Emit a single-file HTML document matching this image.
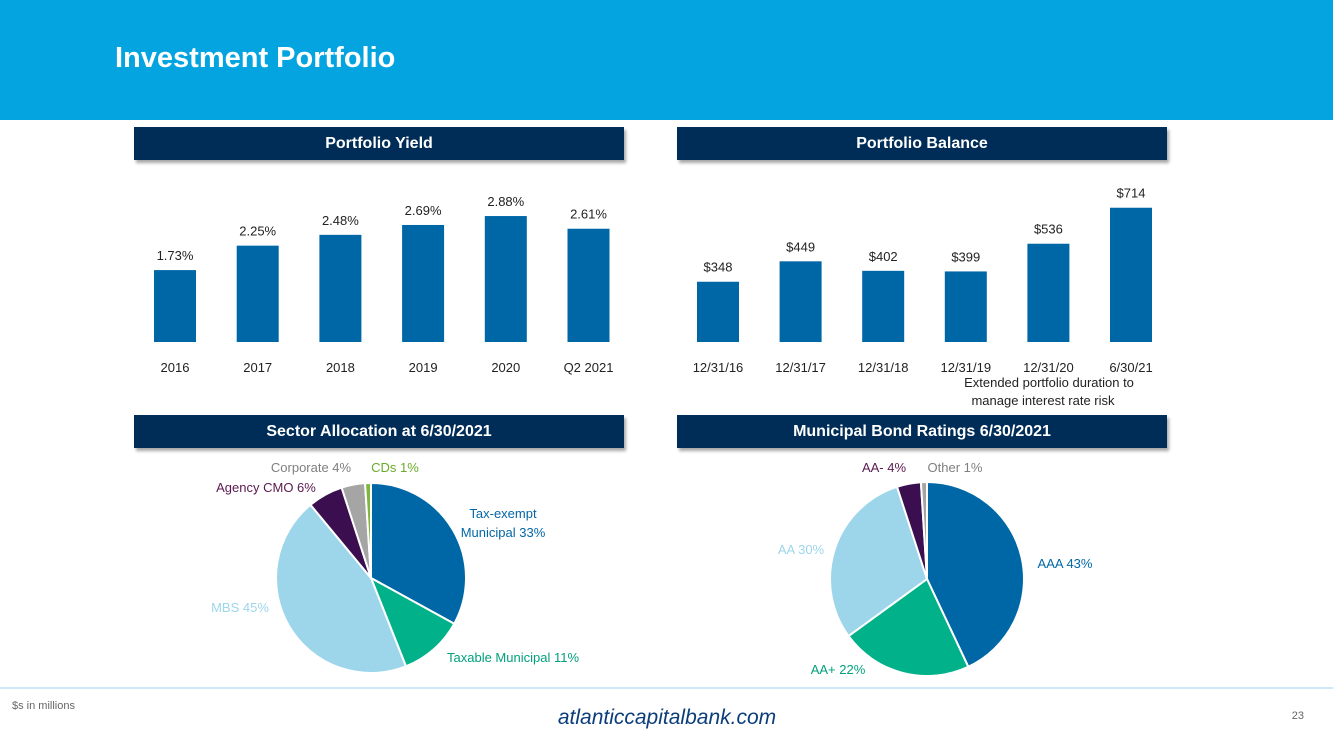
<!DOCTYPE html>
<html><head><meta charset="utf-8">
<style>
body{margin:0;width:1333px;height:750px;position:relative;overflow:hidden;background:#fff;font-family:"Liberation Sans",sans-serif;}
.band{position:absolute;left:0;top:0;width:1333px;height:120px;background:#04a4e0;}
.title{position:absolute;left:115px;top:42px;color:#fff;font-size:29px;font-weight:bold;}
.hdr{position:absolute;height:33px;background:#002d57;color:#fff;font-weight:bold;font-size:16px;line-height:33px;text-align:center;box-shadow:2px 3px 3px rgba(0,0,0,0.35);}
svg{position:absolute;left:0;top:0;}
svg text{font-family:"Liberation Sans",sans-serif;}
</style></head><body>
<div class="band"></div>
<div class="title">Investment Portfolio</div>
<div class="hdr" style="left:134px;top:127px;width:490px">Portfolio Yield</div>
<div class="hdr" style="left:677px;top:127px;width:490px">Portfolio Balance</div>
<div class="hdr" style="left:134px;top:415px;width:490px">Sector Allocation at 6/30/2021</div>
<div class="hdr" style="left:677px;top:415px;width:490px">Municipal Bond Ratings 6/30/2021</div>
<svg id="chart" width="1333" height="750">
<line x1="0" y1="688" x2="1333" y2="688" stroke="#bfe3f3" stroke-width="1.5"/>
<text x="12" y="709" font-size="11" fill="#666">$s in millions</text>
<text x="667" y="724" font-size="21" font-style="italic" fill="#0a3d7a" text-anchor="middle">atlanticcapitalbank.com</text>
<text x="1304" y="719" font-size="11" fill="#666" text-anchor="end">23</text>
<text x="1049" y="387" font-size="13" fill="#222" text-anchor="middle">Extended portfolio duration to</text>
<text x="1043" y="405" font-size="13" fill="#222" text-anchor="middle">manage interest rate risk</text>
</svg>
<script>
const yieldCats=["2016","2017","2018","2019","2020","Q2 2021"];
const yieldVals=[1.73,2.25,2.48,2.69,2.88,2.61];
const balCats=["12/31/16","12/31/17","12/31/18","12/31/19","12/31/20","6/30/21"];
const balVals=[348,449,402,399,536,714];
const sectorLabels=["Tax-exempt Municipal 33%","Taxable Municipal 11%","MBS 45%","Agency CMO 6%","Corporate 4%","CDs 1%"];
const sectorVals=[33,11,45,6,4,1];
const ratingLabels=["AAA 43%","AA+ 22%","AA 30%","AA- 4%","Other 1%"];
const ratingVals=[43,22,30,4,1];

const NS="http://www.w3.org/2000/svg";
const svg=document.getElementById('chart');
function el(t,a,txt){const e=document.createElementNS(NS,t);for(const k in a)e.setAttribute(k,a[k]);if(txt!==undefined)e.textContent=txt;svg.appendChild(e);return e;}

function bars(cats,vals,x0,step,base,vmin,scale,fmt,prefix){
  cats.forEach((c,i)=>{
    const cx=x0+i*step, h=(vals[i]-vmin)*scale;
    const r=el('rect',{x:cx-21,y:base-h,width:42,height:h,fill:'#0067a6'});
    
    
    const v=el('text',{x:cx,y:base-h-10,'font-size':13,fill:'#222','text-anchor':'middle'},fmt(vals[i]));
    
    
    const t=el('text',{x:cx,y:base+30,'font-size':13,fill:'#222','text-anchor':'middle'},c);
    
    
  });
}
bars(yieldCats,yieldVals,175,82.7,342,0.2,47,v=>v.toFixed(2)+'%','yield');
bars(balCats,balVals,718,82.6,342,50,0.2022,v=>'$'+v,'balance');

function pie(vals,labels,cx,cy,r,colors,lpos,lcolors,prefix){
  const tot=vals.reduce((a,b)=>a+b,0);let a=0;
  vals.forEach((v,i)=>{
    const a1=a+v/tot*2*Math.PI;
    const x0=cx+r*Math.sin(a),y0=cy-r*Math.cos(a),x1=cx+r*Math.sin(a1),y1=cy-r*Math.cos(a1);
    const p=el('path',{d:`M${cx},${cy}L${x0},${y0}A${r},${r} 0 ${a1-a>Math.PI?1:0} 1 ${x1},${y1}Z`,fill:colors[i],stroke:'#fff','stroke-width':2});
    
    
    a=a1;
    const t=el('text',{x:lpos[i][0],y:lpos[i][1],'font-size':13,fill:lcolors[i],'text-anchor':lpos[i][2]||'middle'});
    
    
    const words=labels[i];
    if(lpos[i][3]){
      const s1=document.createElementNS(NS,'tspan');s1.setAttribute('x',lpos[i][0]);s1.textContent=words.slice(0,words.indexOf(' '));t.appendChild(s1);
      const s2=document.createElementNS(NS,'tspan');s2.setAttribute('x',lpos[i][0]);s2.setAttribute('dy','19');s2.textContent=words.slice(words.indexOf(' ')+1);t.appendChild(s2);
    } else t.textContent=words;
  });
}
pie(sectorVals,sectorLabels,371,578,95,['#0067a6','#00b189','#9dd6ea','#3b0f4f','#a5a5a5','#7cb740'],
  [[503,518,'middle',true],[513,662],[240,612],[266,492],[311,472],[395,472]],
  ['#0067a6','#00a07d','#9dd6ea','#5b1a4f','#7f7f7f','#6aaa2a'],'sector');
pie(ratingVals,ratingLabels,927,579,97,['#0067a6','#00b189','#9dd6ea','#3b0f4f','#a5a5a5'],
  [[1065,568],[838,674],[801,554],[884,472],[955,472]],
  ['#0067a6','#00a07d','#9dd6ea','#5b1a4f','#7f7f7f'],'rating');
</script>
</body></html>
